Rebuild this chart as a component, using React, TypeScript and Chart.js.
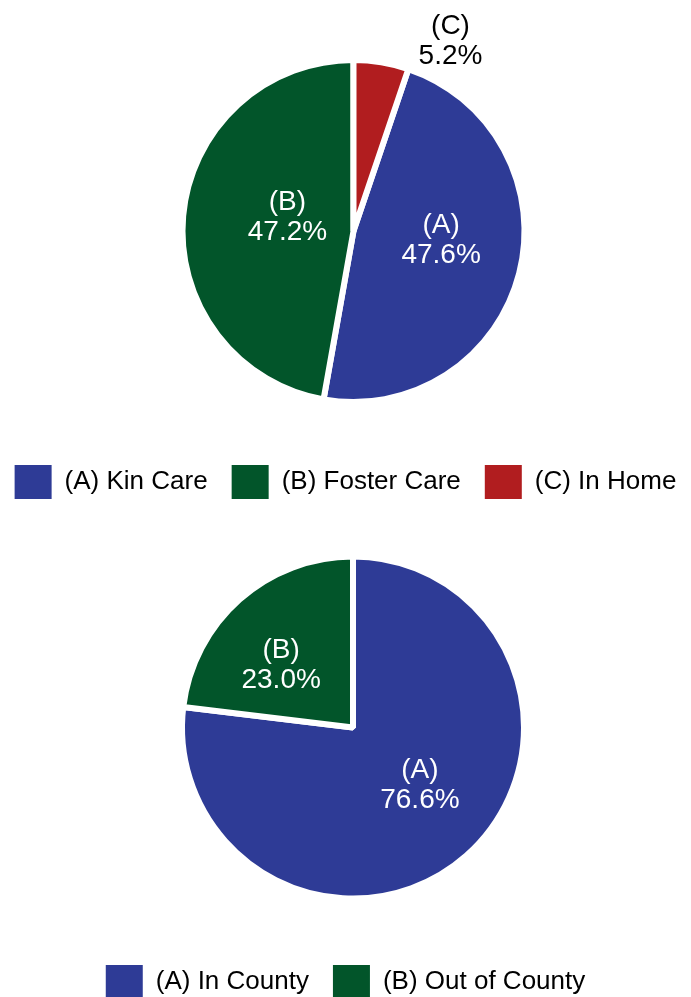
import React, { useEffect, useRef } from "react";
import { Chart, registerables } from "chart.js";

Chart.register(...registerables);

// ---- Data ----
const placementCategories = ["(A) Kin Care", "(B) Foster Care", "(C) In Home"];
const placementShort = ["(A)", "(B)", "(C)"];
const placementValues = [47.6, 47.2, 5.2];
const placementPct = ["47.6%", "47.2%", "5.2%"];

const countyCategories = ["(A) In County", "(B) Out of County"];
const countyShort = ["(A)", "(B)"];
const countyValues = [76.6, 23.0];
const countyPct = ["76.6%", "23.0%"];

// ---- Styles ----
const BLUE = "#2E3B96";
const GREEN = "#02552A";
const RED = "#B11D1F";
const FONT = "'Liberation Sans', Arial, Helvetica, sans-serif";
const CANVAS_W = 711;
const CANVAS_LEFT = -10;

// label placement: angle shift (deg, clockwise) from slice bisector, radius fraction, colour
const placementLabelPlace = [
  { delta: -8.5, frac: 0.515, color: "#ffffff" },
  { delta: 7, frac: 0.395, color: "#ffffff" },
  { delta: 17.7, frac: 1.247, color: "#000000" },
];
const countyLabelPlace = [
  { delta: -7.5, frac: 0.518, color: "#ffffff" },
  { delta: -7.4, frac: 0.557, color: "#ffffff" },
];

type Place = { delta: number; frac: number; color: string };

function makeLabelPlugin(short: string[], pct: string[], place: Place[]) {
  return {
    id: "sliceLabels",
    afterDatasetsDraw(chart: any) {
      const meta = chart.getDatasetMeta(0);
      const ctx = chart.ctx;
      meta.data.forEach((arc: any, i: number) => {
        const p = arc.getProps(["x", "y", "startAngle", "endAngle", "outerRadius"], true);
        const mid = (p.startAngle + p.endAngle) / 2 + (place[i].delta * Math.PI) / 180;
        const r = p.outerRadius * place[i].frac;
        const x = p.x + Math.cos(mid) * r;
        const y = p.y + Math.sin(mid) * r;
        ctx.save();
        ctx.font = `28px ${FONT}`;
        ctx.fillStyle = place[i].color;
        ctx.textAlign = "center";
        ctx.textBaseline = "middle";
        ctx.fillText(short[i], x, y - 15);
        ctx.fillText(pct[i], x, y + 15);
        ctx.restore();
      });
    },
  };
}

function makeShiftPlugin(shiftX: number) {
  return {
    id: "shiftArea",
    afterLayout(chart: any) {
      const a = chart.chartArea;
      a.left += shiftX * 2;
      a.width = a.right - a.left;
    },
  };
}

type PieProps = {
  categories: string[];
  values: number[];
  colors: string[];
  short: string[];
  pct: string[];
  place: Place[];
  rotation: number;
  top: number;
  height: number;
  padTop: number;
  shiftX: number;
  radius: number;
};

function PieChart(props: PieProps) {
  const ref = useRef<HTMLCanvasElement | null>(null);
  useEffect(() => {
    if (!ref.current) return;
    const chart = new Chart(ref.current, {
      type: "pie",
      data: {
        labels: props.categories,
        datasets: [
          {
            data: props.values,
            backgroundColor: props.colors,
            borderColor: "#ffffff",
            borderWidth: 6,
            radius: props.radius,
          } as any,
        ],
      },
      options: {
        responsive: false,
        animation: false,
        events: [],
        rotation: props.rotation,
        layout: { padding: { top: props.padTop, left: 0, right: 0, bottom: 0 } },
        plugins: {
          tooltip: { enabled: false },
          legend: {
            position: "bottom",
            labels: {
              boxWidth: 37,
              boxHeight: 34,
              padding: 24,
              color: "#000000",
              font: { size: 26, family: FONT },
              generateLabels: (c: any) =>
                (Chart as any).overrides.pie.plugins.legend.labels
                  .generateLabels(c)
                  .map((l: any) => ({ ...l, lineWidth: 0, strokeStyle: "rgba(0,0,0,0)" })),
            },
          },
        },
      } as any,
      plugins: [makeShiftPlugin(props.shiftX), makeLabelPlugin(props.short, props.pct, props.place)],
    });
    return () => chart.destroy();
  }, []);
  return (
    <canvas
      ref={ref}
      width={CANVAS_W}
      height={props.height}
      style={{
        position: "absolute",
        left: CANVAS_LEFT,
        top: props.top,
        width: CANVAS_W,
        height: props.height,
        display: "block",
      }}
    />
  );
}

export default function App() {
  const placementTotal = placementValues.reduce((a, b) => a + b, 0);
  const placementRotation = (placementValues[placementValues.length - 1] / placementTotal) * 360;
  return (
    <div
      style={{
        position: "fixed",
        left: 0,
        top: 0,
        width: 691,
        height: 997,
        overflow: "hidden",
        background: "#ffffff",
      }}
    >
      <PieChart
        categories={placementCategories}
        values={placementValues}
        colors={[BLUE, GREEN, RED]}
        short={placementShort}
        pct={placementPct}
        place={placementLabelPlace}
        rotation={placementRotation}
        top={0}
        height={509}
        padTop={21}
        shiftX={8}
        radius={171}
      />
      <PieChart
        categories={countyCategories}
        values={countyValues}
        colors={[BLUE, GREEN]}
        short={countyShort}
        pct={countyPct}
        place={countyLabelPlace}
        rotation={0}
        top={500}
        height={509}
        padTop={14}
        shiftX={7.5}
        radius={171}
      />
    </div>
  );
}
